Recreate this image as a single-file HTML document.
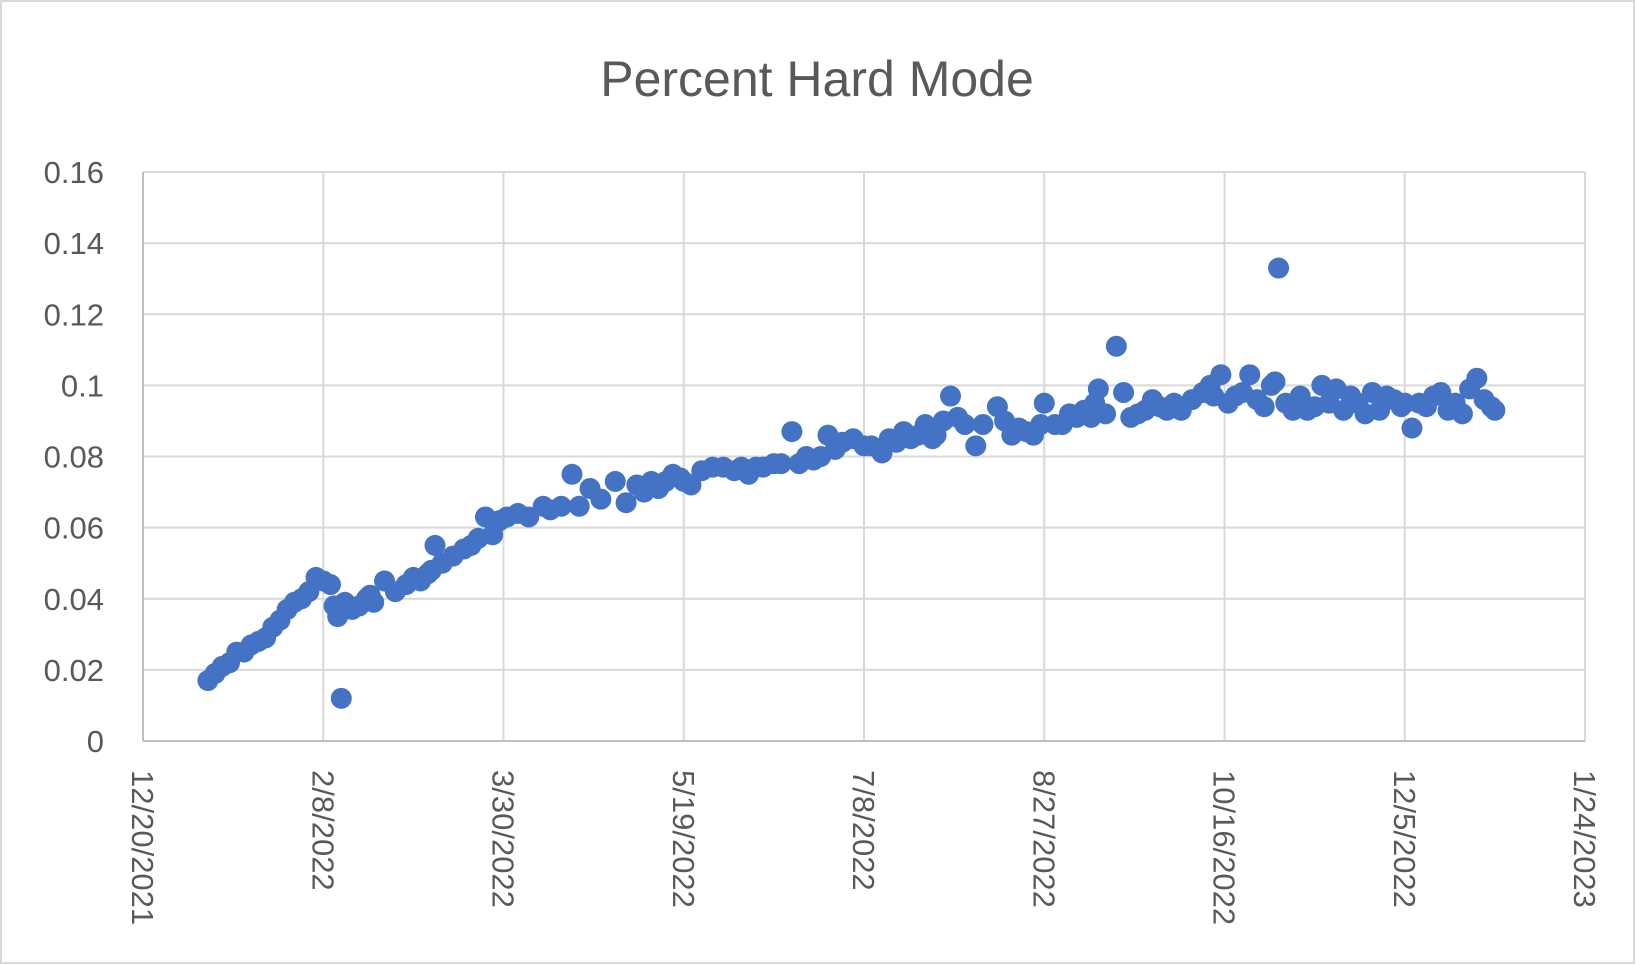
<!DOCTYPE html>
<html><head><meta charset="utf-8"><style>
html,body{margin:0;padding:0;background:#fff;}
svg{display:block;font-family:"Liberation Sans",sans-serif;}
</style></head><body>
<svg id="chart" width="1635" height="964" viewBox="0 0 1635 964" xmlns="http://www.w3.org/2000/svg">
<rect x="1" y="1" width="1633" height="962" fill="#fff" stroke="#d9d9d9" stroke-width="2"/>
<text x="817" y="96" text-anchor="middle" font-size="50" fill="#595959">Percent Hard Mode</text>
<g id="grid"></g><g id="axes"></g><g id="marks"></g><g id="labels"></g>
</svg>
<script>
const xTickLabels = ["12/20/2021","2/8/2022","3/30/2022","5/19/2022","7/8/2022","8/27/2022","10/16/2022","12/5/2022","1/24/2023"];
const yTickLabels = ["0","0.02","0.04","0.06","0.08","0.1","0.12","0.14","0.16"];
const yTicks = [0,0.02,0.04,0.06,0.08,0.1,0.12,0.14,0.16];
// days since 12/20/2021
const days = [18,20,22,24,26,28,30,32,34,36,38,40,42,44,46,48,
50,52,53,54,55,56,58,60,62,63,64,67,70,73,75,77,79,80,81,83,86,89,91,93,95,97,99,101,104,107,111,113,116,119,121,124,127,131,134,137,139,141,143,145,147,149,150,152,155,158,161,164,166,168,170,172,175,177,180,182,184,186,188,190,192,194,197,200,202,205,207,209,211,213,215,217,219,220,222,224,226,228,231,233,237,239,241,243,245,247,249,250,253,255,257,259,261,263,264,265,267,270,272,274,276,278,280,282,284,286,288,291,294,296,297,299,301,303,305,307,309,311,313,314,315,317,319,321,323,325,327,329,331,333,335,337,339,341,343,345,347,349,350,352,354,356,358,360,362,364,366,368,370,372,374,375];
const pctHard = [.017,.019,.021,.022,.025,.025,.027,.028,.029,.032,.034,.037,.039,.040,.042,.046,
.045,.044,.038,.035,.012,.039,.037,.038,.040,.041,.039,.045,.042,.044,.046,.045,.047,.048,.055,.050,.052,.054,.055,.057,.063,.058,.062,.063,.064,.063,.066,.065,.066,.075,.066,.071,.068,.073,.067,.072,.070,.073,.071,.073,.075,.074,.073,.072,.076,.077,.077,.076,.077,.075,.077,.077,.078,.078,.087,.078,.080,.079,.080,.086,.082,.084,.085,.083,.083,.081,.085,.084,.087,.085,.086,.089,.085,.086,.090,.097,.091,.089,.083,.089,.094,.090,.086,.088,.087,.086,.089,.095,.089,.089,.092,.091,.093,.091,.095,.099,.092,.111,.098,.091,.092,.093,.096,.094,.093,.095,.093,.096,.098,.100,.097,.103,.095,.097,.098,.103,.096,.094,.100,.101,.133,.095,.093,.097,.093,.094,.100,.095,.099,.093,.097,.095,.092,.098,.093,.097,.096,.094,.095,.088,.095,.094,.097,.098,.093,.095,.092,.099,.102,.096,.094,.093];

const L=143,R=1585,T=172,B=741;
const xMax=400,yMax=0.16;
const xs=d=>L+(d/xMax)*(R-L);
const ys=v=>B-(v/yMax)*(B-T);
const NS="http://www.w3.org/2000/svg";
function mk(tag,attrs,parent){const e=document.createElementNS(NS,tag);for(const k in attrs)e.setAttribute(k,attrs[k]);document.getElementById(parent).appendChild(e);return e;}

yTicks.forEach((v,i)=>{
  if(i>0){const g=mk('line',{x1:L,x2:R,y1:ys(v),y2:ys(v),stroke:'#d9d9d9','stroke-width':2},'grid');
  
  }
  const t=mk('text',{x:104,y:ys(v)+11,'text-anchor':'end','font-size':31,fill:'#595959'},'labels');
  t.textContent=yTickLabels[i];
  
  
});
xTickLabels.forEach((lab,i)=>{
  const x=xs(i*50);
  if(i>0){const g=mk('line',{x1:x,x2:x,y1:T,y2:B,stroke:'#d9d9d9','stroke-width':2},'grid');
  
  }
  const t=mk('text',{x:0,y:0,transform:`translate(${x-11},770) rotate(90)`,'text-anchor':'start','font-size':31,fill:'#595959'},'labels');
  t.textContent=lab;
  
  
});
const ya=mk('line',{x1:L,x2:L,y1:T,y2:B,stroke:'#bfbfbf','stroke-width':2},'axes');


const xa=mk('line',{x1:L,x2:R,y1:B,y2:B,stroke:'#bfbfbf','stroke-width':2},'axes');


days.forEach((d,i)=>{
  const c=mk('circle',{cx:xs(d),cy:ys(pctHard[i]),r:10.5,fill:'#4472C4'},'marks');
  
  
});
</script>
</body></html>
